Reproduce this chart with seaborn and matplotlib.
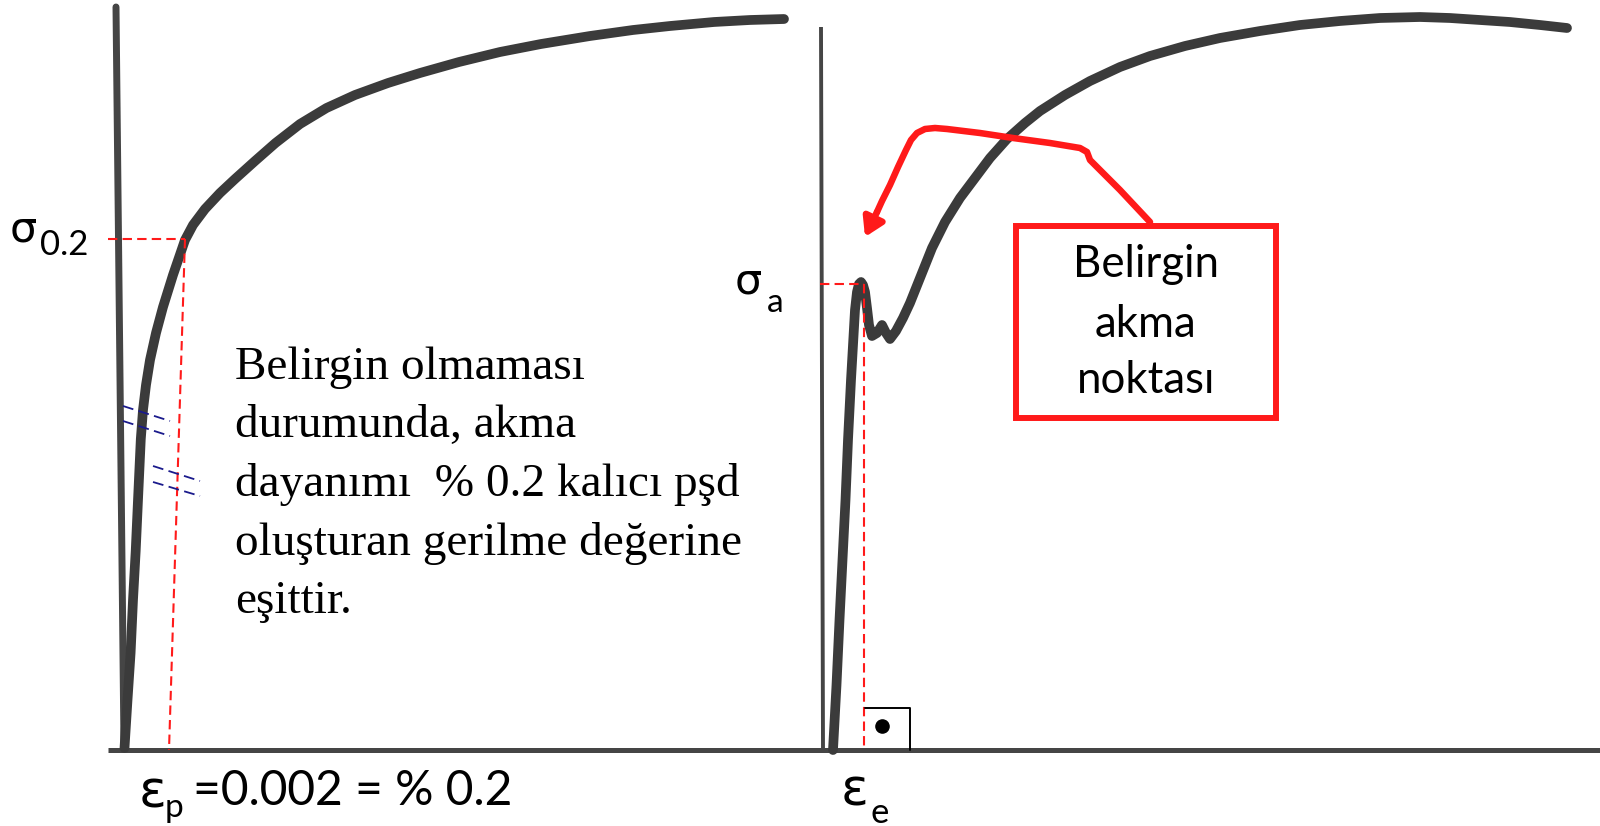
import numpy as np
import pandas as pd
import matplotlib
matplotlib.use("Agg")
import matplotlib.pyplot as plt
from matplotlib.patches import Rectangle
import seaborn as sns

sns.set_theme(style="white")
plt.rcParams["font.family"] = ["Lato", "DejaVu Sans"]

# ---- data (drawing units: strain to the right, stress upward) ----
# stress-strain curve without a distinct yield point
left_strain = [124.5, 127.5, 130.6, 133, 135.7, 138, 140.8, 143, 146, 150, 156,
               163, 173, 185, 193, 205, 220, 235, 255, 275.5, 300, 326.5, 355,
               388, 420, 459, 500, 541, 590, 633, 670, 714, 750, 784]
left_stress = [78, 126, 173, 226, 275, 326, 387, 416, 441, 466, 493,
               519, 551, 586, 601, 617, 633, 647, 665, 683, 702, 718, 731,
               743, 753, 764, 774, 782, 790, 796, 800, 804, 806, 807]

# stress-strain curve with a distinct (upper/lower) yield point
right_strain = [833, 836.5, 839.5, 842.5, 845.5, 848, 851, 853, 855, 857, 859, 861,
                863, 865, 867, 869, 872, 877, 882, 886, 890, 896, 903, 910, 920,
                932, 945, 960, 975, 990, 1007, 1025, 1040, 1065, 1090, 1120,
                1150, 1185, 1220, 1260, 1300, 1340, 1380, 1420, 1450, 1480,
                1510, 1540, 1567]
right_stress = [76, 141, 206, 266, 326, 386, 446, 481, 516, 534, 542, 544,
                541, 534, 518, 501, 490, 493, 501, 493, 487, 495, 508, 523, 548,
                578, 604, 628, 648, 668, 687, 703, 715, 731, 745, 759,
                770, 780, 788, 795, 801, 805, 808, 809, 808, 806,
                804, 801, 798]

# stress axes and common strain axis
left_axis_x = [116, 124]
left_axis_y = [819, 78]
right_axis_x = [821, 823]
right_axis_y = [799, 76]
strain_axis_x = [108, 1600]
strain_axis_y = [76.5, 76.5]

# 0.2 % offset construction
offset_h_x = [108, 185]
offset_h_y = [587, 587]
offset_v_x = [185, 169]
offset_v_y = [587, 76]

# yield point projection on the right
yield_h_x = [820, 864]
yield_h_y = [542, 542]
yield_v_x = [864, 864]
yield_v_y = [542, 76]

# parallel marks (elastic line and offset line)
par_marks = [
    ([123, 170], [420, 405]),
    ([123, 170], [405, 390]),
    ([153, 200], [360, 345]),
    ([153, 200], [344, 330]),
]

# right-angle marker at the elastic strain
corner_x = [865, 910, 910]
corner_y = [118, 118, 76]
corner_dot = (882, 100)

# callout arrow path from the box to the yield point
arrow_x = [1150, 1120, 1090, 1087, 1080, 1050, 1013, 980, 947, 935, 925, 917,
           911, 906, 898, 890, 882, 877]
arrow_y = [604, 636, 666, 674, 678, 683, 688, 693, 697, 698, 697, 693,
           686, 676, 659, 641, 625, 614]
arrow_tip = (865, 589)

# callout box
box_x0, box_y0, box_x1, box_y1 = 1016, 408, 1276, 600
box_lines = ["Belirgin", "akma", "noktası"]
box_baselines = [549, 489, 433]

note_lines = ["Belirgin olmaması", "durumunda, akma",
              "dayanımı  % 0.2 kalıcı pşd", "oluşturan gerilme değerine",
              "eşittir."]
note_baselines = [447, 389, 330, 271, 213]

# ---- figure ----
fig = plt.figure(figsize=(16, 8.26), dpi=100)
ax = fig.add_axes([0, 0, 1, 1])
ax.set_xlim(0, 1600)
ax.set_ylim(0, 826)
ax.axis("off")

curve_color = "#3b3b3b"
red = "#ff1a1a"
navy = "#1a1a8c"

# axes lines
ax.plot(left_axis_x, left_axis_y, color="#454545", lw=5, solid_capstyle="round")
ax.plot(right_axis_x, right_axis_y, color="#454545", lw=2.8, solid_capstyle="butt")
ax.plot(strain_axis_x, strain_axis_y, color="#454545", lw=3.6, solid_capstyle="butt")

# curves
curves = pd.DataFrame({
    "strain": left_strain + right_strain,
    "stress": left_stress + right_stress,
    "curve": ["left"] * len(left_strain) + ["right"] * len(right_strain),
})
for name, grp in curves.groupby("curve"):
    sns.lineplot(data=grp, x="strain", y="stress", ax=ax, sort=False,
                 estimator=None, color=curve_color, lw=7,
                 solid_capstyle="round", solid_joinstyle="round")

# dashed construction lines
dash = (0, (4.5, 2.5))
for xs, ys in [(offset_h_x, offset_h_y), (offset_v_x, offset_v_y),
               (yield_h_x, yield_h_y), (yield_v_x, yield_v_y)]:
    ax.plot(xs, ys, color=red, lw=1.5, linestyle=dash)

for xs, ys in par_marks:
    ax.plot(xs, ys, color=navy, lw=1.3, linestyle=(0, (6, 3)))

# right-angle marker
ax.plot(corner_x, corner_y, color="black", lw=1.4)
ax.scatter([corner_dot[0]], [corner_dot[1]], s=90, color="black", zorder=5)

# callout arrow
ax.plot(arrow_x, arrow_y, color=red, lw=4.7, solid_capstyle="round",
        solid_joinstyle="round")
ax.annotate("", xy=arrow_tip, xytext=(arrow_x[-1], arrow_y[-1]),
            arrowprops=dict(arrowstyle="-|>,head_length=0.9,head_width=0.55",
                            color=red, lw=4.7, shrinkA=0, shrinkB=0))

# callout box
ax.add_patch(Rectangle((box_x0, box_y0), box_x1 - box_x0, box_y1 - box_y0,
                       fill=False, edgecolor=red, lw=4.3))
for txt, yb in zip(box_lines, box_baselines):
    ax.text((box_x0 + box_x1) / 2, yb, txt, ha="center", va="baseline",
            fontsize=31.5, color="black")

# explanatory note
for txt, yb in zip(note_lines, note_baselines):
    ax.text(235, yb, txt, ha="left", va="baseline", fontsize=34,
            family=["Liberation Serif", "DejaVu Serif"], color="black")

# symbol labels
sym = dict(family=["DejaVu Sans"], color="black", va="baseline")
ax.text(10, 584, "σ", fontsize=31, **sym)
ax.text(40, 571, "0.2", fontsize=25, va="baseline", color="black")
ax.text(735, 533, "σ", fontsize=31, **sym)
ax.text(767, 514, "a", fontsize=24, va="baseline", color="black")
ax.text(139, 19, "ε", fontsize=37, **sym)
ax.text(165, 9, "p", fontsize=24, va="baseline", color="black")
ax.text(193, 21, "=0.002 = % 0.2", fontsize=34.5, va="baseline", color="black")
ax.text(841, 21, "ε", fontsize=37, **sym)
ax.text(870, 3, "e", fontsize=25, va="baseline", color="black")

fig.savefig("out.png", dpi=100, facecolor="white")
